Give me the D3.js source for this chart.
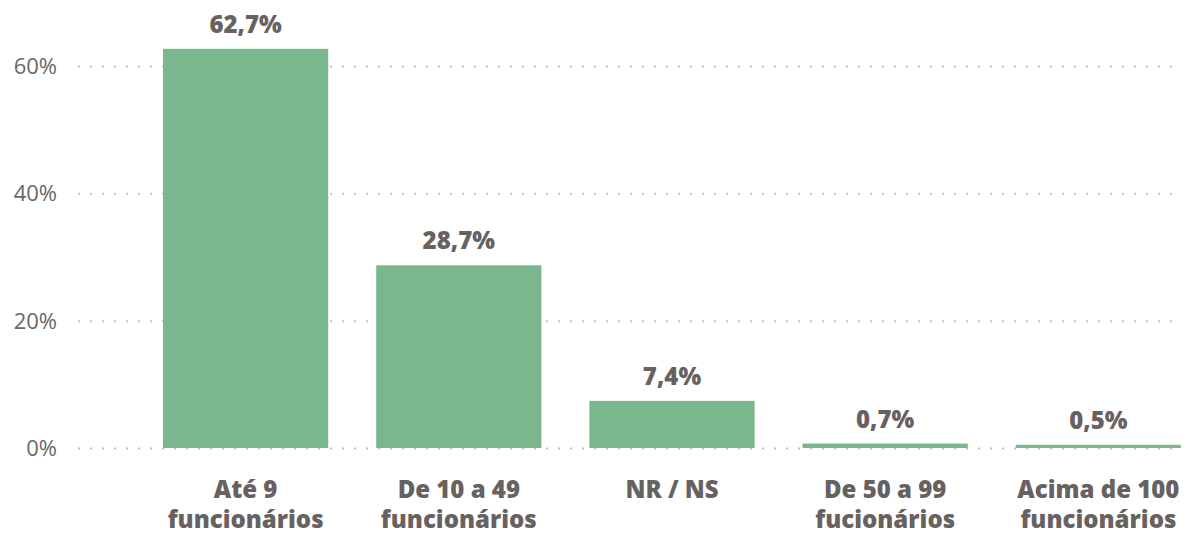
<!DOCTYPE html>
<html>
<head>
<meta charset="utf-8">
<script src="https://cdn.jsdelivr.net/npm/d3@7"></script>
<style>
  body { margin: 0; background: #fff; }
  text { font-family: "Open Sans", "Noto Sans", sans-serif; }
</style>
</head>
<body>
<div id="chart"></div>
<script>
const categories = [["Até 9", "funcionários"], ["De 10 a 49", "funcionários"], ["NR / NS"], ["De 50 a 99", "fucionários"], ["Acima de 100", "funcionários"]];
const values = [62.7, 28.7, 7.4, 0.7, 0.5];
const yTicks = [0, 20, 40, 60];

const w = 1192, h = 538;
const x0 = 163, x1 = 1181, gridStart = 78;

const svg = d3.select("#chart").append("svg")
  .attr("width", w)
  .attr("height", h);

const xScale = d3.scaleBand()
  .domain(d3.range(values.length))
  .range([x0, x1])
  .paddingInner(0.225)
  .paddingOuter(0);

const yScale = d3.scaleLinear()
  .domain([0, 60])
  .range([448, 66]);

/** gridlines */
svg.append("g").selectAll("line")
  .data(yTicks)
  .join("line")
  .attr("x1", gridStart)
  .attr("x2", x1)
  .attr("y1", d => yScale(d) + 0.5)
  .attr("y2", d => yScale(d) + 0.5)
  .attr("stroke", "#c2c2c2")
  .attr("stroke-width", 2)
  .attr("stroke-dasharray", "2,10");

/** y-axis labels */
svg.append("g").selectAll("text")
  .data(yTicks)
  .join("text")
  .attr("x", 57)
  .attr("y", d => yScale(d) + 8)
  .attr("text-anchor", "end")
  .attr("fill", "#6b6764")
  .style("font-size", "22px")
  .text(d => d + "%");

/** bars */
svg.append("g").selectAll("rect")
  .data(values)
  .join("rect")
  .attr("x", (d, i) => xScale(i))
  .attr("y", d => yScale(d))
  .attr("width", xScale.bandwidth())
  .attr("height", d => yScale(0) - yScale(d))
  .attr("fill", "#7ab78e");

/** value labels */
svg.append("g").selectAll("text")
  .data(values)
  .join("text")
  .attr("x", (d, i) => xScale(i) + xScale.bandwidth() / 2)
  .attr("y", d => yScale(d) - 16)
  .attr("text-anchor", "middle")
  .attr("fill", "#67625f")
  .style("font-size", "24px")
  .style("font-weight", "800")
  .text(d => d.toFixed(1).replace(".", ",") + "%");

/** category labels */
const cat = svg.append("g").selectAll("text")
  .data(categories)
  .join("text")
  .attr("x", (d, i) => xScale(i) + xScale.bandwidth() / 2)
  .attr("y", 498)
  .attr("text-anchor", "middle")
  .attr("fill", "#67625f")
  .style("font-size", "24px")
  .style("font-weight", "800");

cat.selectAll("tspan")
  .data(d => d)
  .join("tspan")
  .attr("x", function() { return d3.select(this.parentNode).attr("x"); })
  .attr("dy", (d, i) => i ? 30 : 0)
  .text(d => d);
</script>
</body>
</html>
